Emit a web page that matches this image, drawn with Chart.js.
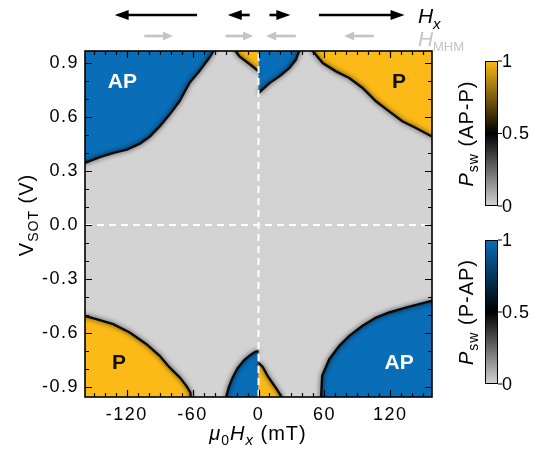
<!DOCTYPE html>
<html>
<head>
<meta charset="utf-8">
<script src="https://cdn.jsdelivr.net/npm/chart.js@4.4.1/dist/chart.umd.min.js"></script>
<style>
	html, body { margin: 0; padding: 0; background: #fff; }
</style>
</head>
<body>
<canvas id="chart" width="546" height="451"></canvas>
<script>
/*	switching map: P_sw vs in-plane field and SOT voltage
	each region is a switching boundary (mT, V) plus corner points beyond the axis range that close it */

const xRange = [-158, 158];
const yRange = [-0.955, 0.965];
const xTickVals = [-120, -60, 0, 60, 120];
const yTickVals = [-0.9, -0.6, -0.3, 0, 0.3, 0.6, 0.9];

// AP-P switching (orange)
const pTopRightEdge = [
	[47, 1.05], [49.4, 0.965], [58.5, 0.898], [70.6, 0.852], [82.7, 0.815], [94.8, 0.76],
	[107, 0.686], [119, 0.63], [131, 0.575], [143.4, 0.538], [157.5, 0.492], [170, 0.47]
];
const pTopRightCorners = [[170, 1.05]];
const pTopNearZeroEdge = [
	[-23, 1.05], [-21, 0.965], [-17.3, 0.935], [-11.2, 0.907], [-5.2, 0.879], [0, 0.852]
];
const pTopNearZeroCorners = [[0, 1.05]];
const pBottomLeftEdge = [
	[-170, -0.495], [-158, -0.505], [-147.6, -0.523], [-132.4, -0.551], [-117.3, -0.597],
	[-102, -0.662], [-90, -0.726], [-81, -0.791], [-71.8, -0.846], [-65.7, -0.893],
	[-62, -0.93], [-61, -1.05]
];
const pBottomLeftCorners = [[-170, -1.05]];
const pBottomNearZeroEdge = [
	[0, -0.765], [4, -0.79], [8, -0.835], [13, -0.88], [17, -0.915], [21, -0.955], [23, -1.05]
];
const pBottomNearZeroCorners = [[0, -1.05]];

// P-AP switching (blue)
const apTopLeftEdge = [
	[-170, 0.335], [-158, 0.344], [-144, 0.378], [-132, 0.40], [-120, 0.418], [-108, 0.451],
	[-99, 0.49], [-90, 0.547], [-81, 0.612], [-72, 0.686], [-63, 0.787], [-54, 0.852],
	[-45, 0.926], [-41, 0.965], [-38, 1.05]
];
const apTopLeftCorners = [[-170, 1.05]];
const apTopNearZeroEdge = [
	[0, 0.732], [10, 0.787], [19, 0.824], [28, 0.870], [34, 0.916], [37, 0.965], [38, 1.05]
];
const apTopNearZeroCorners = [[0, 1.05]];
const apBottomRightEdge = [
	[57, -1.05], [57, -0.955], [58, -0.837], [64.5, -0.745], [73.6, -0.671], [82.7, -0.616],
	[94.8, -0.56], [107, -0.514], [119, -0.486], [134, -0.459], [157.5, -0.422], [170, -0.41]
];
const apBottomRightCorners = [[170, -1.05]];
const apBottomNearZeroEdge = [
	[-30, -1.05], [-29.4, -0.955], [-27, -0.9], [-23.4, -0.845], [-19, -0.795],
	[-13, -0.75], [-7, -0.72], [-3, -0.705], [0, -0.7]
];
const apBottomNearZeroCorners = [[0, -1.05]];

const regionLabels = [
	{ text: 'AP', x: -124, y: 0.79, color: '#ffffff' },
	{ text: 'P', x: 128, y: 0.79, color: '#111111' },
	{ text: 'P', x: -127, y: -0.77, color: '#111111' },
	{ text: 'AP', x: 128, y: -0.77, color: '#ffffff' }
];

// field arrows above the map, [tail, head] in mT
const hxArrows = [[-56, -131], [-8, -28], [10, 29], [55, 133]];
const hmhmArrows = [[-104, -78], [-30, -5], [34, 7], [105, 78]];

const colorbarTicks = [0, 0.5, 1];

const GRAY = 'rgb(211,211,211)';
const ORANGE = 'rgb(251,186,24)';
const BLUE = 'rgb(9,110,183)';
const EDGE = '#0a0a0a';
const FONT = '"Liberation Sans", Arial, sans-serif';

const toXY = (p) => ({ x: p[0], y: p[1] });

function regionFill(edge, corners, color) {
	const pts = edge.concat(corners).map(toXY);
	pts.push(toXY(edge[0]));
	return {
		data: pts,
		showLine: true,
		fill: 'shape',
		backgroundColor: color,
		borderWidth: 0,
		pointRadius: 0,
		tension: 0,
		clip: 0,
		order: 3
	};
}

function regionEdge(edge) {
	return {
		data: edge.map(toXY),
		showLine: true,
		fill: false,
		borderColor: EDGE,
		borderWidth: 2.4,
		pointRadius: 0,
		tension: 0,
		clip: 0,
		order: 2,
		isEdge: true
	};
}

function dashLine(pts) {
	return {
		data: pts,
		showLine: true,
		fill: false,
		borderColor: '#ffffff',
		borderWidth: 2,
		borderDash: [7, 5],
		pointRadius: 0,
		clip: 0,
		order: 1
	};
}

function drawRich(ctx, parts, x, y, angle) {
	ctx.save();
	ctx.translate(x, y);
	ctx.rotate(angle || 0);
	ctx.textAlign = 'left';
	ctx.textBaseline = 'alphabetic';
	let total = 0;
	parts.forEach((p) => {
		ctx.font = p.font;
		p.w = ctx.measureText(p.text).width;
		total += p.w;
	});
	let cx = -total / 2;
	parts.forEach((p) => {
		ctx.font = p.font;
		ctx.fillStyle = p.color || '#000';
		ctx.fillText(p.text, cx, p.dy || 0);
		cx += p.w;
	});
	ctx.restore();
}

function drawArrow(ctx, x0, x1, y, color, lw, headLen, headHalf) {
	const dir = x1 > x0 ? 1 : -1;
	ctx.save();
	ctx.strokeStyle = color;
	ctx.fillStyle = color;
	ctx.lineWidth = lw;
	ctx.beginPath();
	ctx.moveTo(x0, y);
	ctx.lineTo(x1 - dir * headLen * 0.8, y);
	ctx.stroke();
	ctx.beginPath();
	ctx.moveTo(x1, y);
	ctx.lineTo(x1 - dir * headLen, y - headHalf);
	ctx.lineTo(x1 - dir * headLen, y + headHalf);
	ctx.closePath();
	ctx.fill();
	ctx.restore();
}

function drawColorbar(ctx, left, top, bottom, color, label) {
	const w = 13;
	const grad = ctx.createLinearGradient(0, bottom, 0, top);
	grad.addColorStop(0, GRAY);
	grad.addColorStop(0.5, '#000000');
	grad.addColorStop(1, color);
	ctx.fillStyle = grad;
	ctx.fillRect(left, top, w, bottom - top);
	ctx.strokeStyle = '#000';
	ctx.lineWidth = 1;
	ctx.strokeRect(left + 0.5, top + 0.5, w - 1, bottom - top - 1);
	ctx.font = '18px ' + FONT;
	ctx.fillStyle = '#000';
	ctx.textAlign = 'left';
	ctx.textBaseline = 'middle';
	colorbarTicks.forEach((v) => {
		const y = bottom - v * (bottom - top);
		ctx.beginPath();
		ctx.moveTo(left + w, y);
		ctx.lineTo(left + w + 4, y);
		ctx.stroke();
		ctx.fillText(String(v), left + w + 4, y + 1);
	});
	drawRich(ctx, [
		{ text: 'P', font: 'italic 20px ' + FONT },
		{ text: 'sw', font: '14px ' + FONT, dy: 5 },
		{ text: ' ' + label, font: '20px ' + FONT }
	], left - 12, (top + bottom) / 2, -Math.PI / 2);
}

const decorPlugin = {
	id: 'decor',
	beforeDraw(chart) {
		// the source figure is slightly wide-set
		chart.ctx.letterSpacing = '1.5px';
	},
	beforeDatasetsDraw(chart) {
		const a = chart.chartArea;
		const ctx = chart.ctx;
		ctx.save();
		ctx.fillStyle = GRAY;
		ctx.fillRect(a.left, a.top, a.right - a.left, a.bottom - a.top);
		ctx.restore();
	},
	beforeDatasetDraw(chart, args) {
		if (!chart.data.datasets[args.index].isEdge) return;
		const ctx = chart.ctx;
		ctx.save();
		ctx.shadowColor = 'rgba(0,0,0,0.8)';
		ctx.shadowBlur = 5;
	},
	afterDatasetDraw(chart, args) {
		if (!chart.data.datasets[args.index].isEdge) return;
		chart.ctx.restore();
	},
	afterDraw(chart) {
		const ctx = chart.ctx;
		const a = chart.chartArea;
		const xs = chart.scales.x, ys = chart.scales.y;
		ctx.save();
		ctx.letterSpacing = '0px';

		// region names
		ctx.font = 'bold 21px ' + FONT;
		ctx.textAlign = 'center';
		ctx.textBaseline = 'middle';
		regionLabels.forEach((l) => {
			ctx.fillStyle = l.color;
			ctx.fillText(l.text, xs.getPixelForValue(l.x), ys.getPixelForValue(l.y));
		});

		// inward ticks on all four sides
		ctx.strokeStyle = '#000';
		ctx.lineWidth = 1.2;
		for (let v = -150; v <= 150; v += 10) {
			const px = Math.round(xs.getPixelForValue(v)) + 0.5;
			const len = xTickVals.includes(v) ? 7 : 4;
			ctx.beginPath();
			ctx.moveTo(px, a.bottom); ctx.lineTo(px, a.bottom - len);
			ctx.moveTo(px, a.top); ctx.lineTo(px, a.top + len);
			ctx.stroke();
		}
		for (let i = -9; i <= 9; i++) {
			const py = Math.round(ys.getPixelForValue(i / 10)) + 0.5;
			const len = i % 3 === 0 ? 7 : 4;
			ctx.beginPath();
			ctx.moveTo(a.left, py); ctx.lineTo(a.left + len, py);
			ctx.moveTo(a.right, py); ctx.lineTo(a.right - len, py);
			ctx.stroke();
		}
		ctx.lineWidth = 1.6;
		ctx.strokeRect(a.left, a.top, a.right - a.left, a.bottom - a.top);

		// field direction arrows
		hxArrows.forEach((p) => {
			drawArrow(ctx, xs.getPixelForValue(p[0]), xs.getPixelForValue(p[1]), 15, '#000', 2.6, 14, 5);
		});
		hmhmArrows.forEach((p) => {
			drawArrow(ctx, xs.getPixelForValue(p[0]), xs.getPixelForValue(p[1]), 36, 'rgb(196,196,196)', 2.6, 10, 4.5);
		});
		ctx.textAlign = 'left';
		ctx.textBaseline = 'alphabetic';
		ctx.fillStyle = '#000';
		ctx.font = 'italic 21px ' + FONT;
		ctx.fillText('H', 418, 23);
		ctx.font = 'italic 15px ' + FONT;
		ctx.fillText('x', 433, 29);
		ctx.fillStyle = 'rgb(196,196,196)';
		ctx.font = 'italic 21px ' + FONT;
		ctx.fillText('H', 418, 46);
		ctx.font = '13px ' + FONT;
		ctx.fillText('MHM', 433, 51);

		// axis titles
		ctx.letterSpacing = '1px';
		drawRich(ctx, [
			{ text: 'μ', font: 'italic 20px ' + FONT },
			{ text: '0', font: '14px ' + FONT, dy: 5 },
			{ text: 'H', font: 'italic 20px ' + FONT },
			{ text: 'x', font: 'italic 15px ' + FONT, dy: 5 },
			{ text: ' (mT)', font: '20px ' + FONT }
		], 258, 440, 0);
		drawRich(ctx, [
			{ text: 'V', font: '20px ' + FONT },
			{ text: 'SOT', font: '14px ' + FONT, dy: 5 },
			{ text: ' (V)', font: '20px ' + FONT }
		], 33, 215, -Math.PI / 2);

		drawColorbar(ctx, 485, 61, 206, ORANGE, '(AP-P)');
		drawColorbar(ctx, 485, 240, 384, BLUE, '(P-AP)');
		ctx.restore();
	}
};

const chart = new Chart(document.getElementById('chart'), {
	type: 'scatter',
	data: {
		datasets: [
			dashLine([{ x: 0, y: yRange[0] }, { x: 0, y: yRange[1] }]),
			dashLine([{ x: xRange[0], y: 0 }, { x: xRange[1], y: 0 }]),
			regionFill(pTopRightEdge, pTopRightCorners, ORANGE),
			regionFill(pTopNearZeroEdge, pTopNearZeroCorners, ORANGE),
			regionFill(pBottomLeftEdge, pBottomLeftCorners, ORANGE),
			regionFill(pBottomNearZeroEdge, pBottomNearZeroCorners, ORANGE),
			regionFill(apTopLeftEdge, apTopLeftCorners, BLUE),
			regionFill(apTopNearZeroEdge, apTopNearZeroCorners, BLUE),
			regionFill(apBottomRightEdge, apBottomRightCorners, BLUE),
			regionFill(apBottomNearZeroEdge, apBottomNearZeroCorners, BLUE),
			regionEdge(pTopRightEdge),
			regionEdge(pTopNearZeroEdge),
			regionEdge(pBottomLeftEdge),
			regionEdge(pBottomNearZeroEdge),
			regionEdge(apTopLeftEdge),
			regionEdge(apTopNearZeroEdge),
			regionEdge(apBottomRightEdge),
			regionEdge(apBottomNearZeroEdge)
		]
	},
	options: {
		responsive: false,
		animation: false,
		layout: { padding: { left: 25, right: 114, top: 51, bottom: 24 } },
		scales: {
			x: {
				type: 'linear',
				min: xRange[0],
				max: xRange[1],
				grid: { display: false, drawTicks: false },
				border: { display: false },
				ticks: {
					autoSkip: false,
					maxRotation: 0,
					padding: 7,
					color: '#000',
					font: { family: FONT, size: 18 },
					callback: (v) => String(v)
				},
				afterBuildTicks: (s) => { s.ticks = xTickVals.map((v) => ({ value: v })); },
				afterFit: (s) => { s.height = 30; }
			},
			y: {
				type: 'linear',
				min: yRange[0],
				max: yRange[1],
				grid: { display: false, drawTicks: false },
				border: { display: false },
				ticks: {
					autoSkip: false,
					padding: 6,
					color: '#000',
					font: { family: FONT, size: 18 },
					callback: (v) => Number(v).toFixed(1)
				},
				afterBuildTicks: (s) => { s.ticks = yTickVals.map((v) => ({ value: v })); },
				afterFit: (s) => { s.width = 60; }
			}
		},
		plugins: {
			legend: { display: false },
			tooltip: { enabled: false }
		}
	},
	plugins: [decorPlugin]
});
</script>
</body>
</html>
